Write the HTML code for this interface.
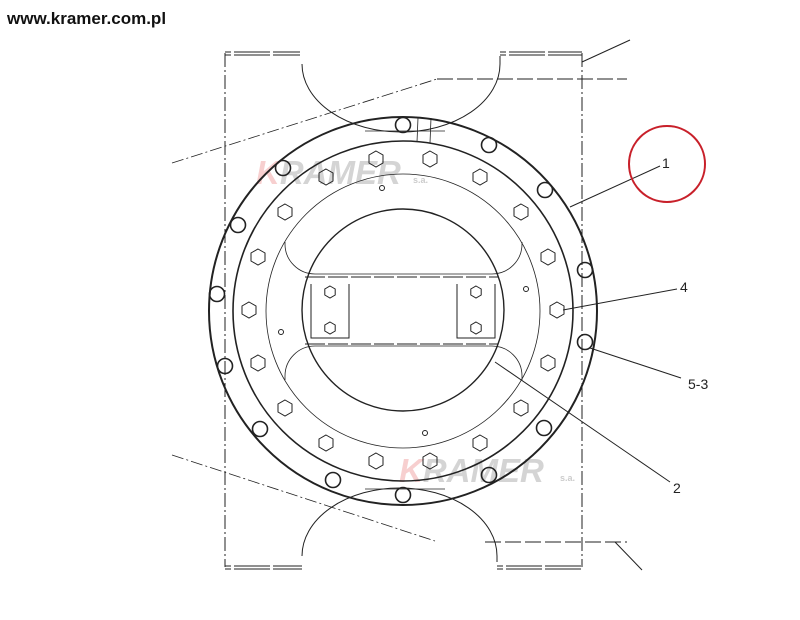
<!DOCTYPE html>
<html><head><meta charset="utf-8"><style>
html,body{margin:0;padding:0;background:#fff;}
svg{display:block;}
</style></head><body>
<svg width="800" height="620" viewBox="0 0 800 620" xmlns="http://www.w3.org/2000/svg" font-family="Liberation Sans, sans-serif">
<rect width="800" height="620" fill="#fff"/>
<text x="7" y="24" font-size="17" font-weight="bold" fill="#111">www.kramer.com.pl</text>

<!-- watermarks -->
<g font-weight="bold" font-style="italic" font-size="33" opacity="0.5">
<text x="256" y="184" fill="#aaa"><tspan fill="#f0a0a0">K</tspan>RAMER</text>
<text x="399" y="482" fill="#aaa"><tspan fill="#f0a0a0">K</tspan>RAMER</text>
</g>
<text x="413" y="183" font-size="9" fill="#ccc" font-weight="bold">s.a.</text>
<text x="560" y="481" font-size="9" fill="#ccc" font-weight="bold">s.a.</text>

<g fill="none" stroke="#222" stroke-width="1">
<!-- frame -->
<line x1="225" y1="53" x2="225" y2="567" stroke-dasharray="14,3,2,3"/>
<line x1="582" y1="53" x2="582" y2="567" stroke-dasharray="14,3,2,3"/>
<path d="M225,52 H300 M225,55 H300 M500,52 H582 M500,55 H582" stroke-dasharray="6,3,30,0"/>
<path d="M225,566 H302 M225,569 H302 M497,566 H582 M497,569 H582" stroke-dasharray="6,3,30,0"/>
<path d="M302,64 A99 68 0 0 0 500,64 L500,56"/>
<line x1="365" y1="131" x2="445" y2="131" stroke-width="0.8"/>
<path d="M302,556 A97.5 68 0 0 1 497,556 L497,562"/>
<line x1="365" y1="489" x2="445" y2="489" stroke-width="0.8"/>
<!-- dash-dot guides -->
<line x1="172" y1="163" x2="437" y2="79" stroke-dasharray="12,3,2,3" stroke-width="0.8"/>
<line x1="437" y1="79" x2="627" y2="79" stroke-dasharray="16,4"/>
<line x1="582" y1="62" x2="630" y2="40"/>
<line x1="172" y1="455" x2="435" y2="541" stroke-dasharray="12,3,2,3" stroke-width="0.8"/>
<line x1="485" y1="542" x2="627" y2="542" stroke-dasharray="16,4"/>
<line x1="615" y1="542" x2="642" y2="570"/>

<!-- rings -->
<circle cx="403" cy="311" r="194" stroke-width="2"/>
<circle cx="403" cy="311" r="170" stroke-width="1.6"/>
<circle cx="403" cy="311" r="137" stroke-width="0.8"/>
<circle cx="403" cy="310" r="101" stroke-width="1.4"/>
<path d="M418,118 L417,142 M431,118 L430,143" stroke-width="0.8"/>
<!-- slots -->
<path d="M285,242 L285,244 A30 30 0 0 0 315,274 L492,274 A30 30 0 0 0 522,244 L522,242" stroke-width="0.8"/>
<path d="M285,380 L285,376 A30 30 0 0 1 315,346 L492,346 A30 30 0 0 1 522,376 L522,380" stroke-width="0.8"/>
<line x1="305" y1="277" x2="498" y2="277" stroke-dasharray="20,3"/>
<line x1="305" y1="344" x2="498" y2="344" stroke-dasharray="20,3"/>
<!-- brackets -->
<path d="M311,284 V338 H349 V284"/>
<path d="M457,284 V338 H495 V284"/>

<!-- leaders -->
<line x1="570" y1="207" x2="660" y2="166"/>
<line x1="563" y1="310" x2="677" y2="289"/>
<line x1="590" y1="348" x2="681" y2="378"/>
<line x1="495" y1="362" x2="670" y2="482"/>

<!-- outer bolts -->
<g stroke-width="1.6">
<circle cx="403" cy="125" r="7.5"/><circle cx="489" cy="145" r="7.5"/><circle cx="545" cy="190" r="7.5"/>
<circle cx="585" cy="270" r="7.5"/><circle cx="585" cy="342" r="7.5"/><circle cx="544" cy="428" r="7.5"/>
<circle cx="489" cy="475" r="7.5"/><circle cx="403" cy="495" r="7.5"/><circle cx="333" cy="480" r="7.5"/>
<circle cx="260" cy="429" r="7.5"/><circle cx="225" cy="366" r="7.5"/><circle cx="217" cy="294" r="7.5"/>
<circle cx="238" cy="225" r="7.5"/><circle cx="283" cy="168" r="7.5"/>
</g>
<!-- small holes -->
<circle cx="382" cy="188" r="2.5"/><circle cx="526" cy="289" r="2.5"/>
<circle cx="281" cy="332" r="2.5"/><circle cx="425" cy="433" r="2.5"/>
</g>

<!-- hex bolts -->
<defs><polygon id="h" points="0,-8 7,-4 7,4 0,8 -7,4 -7,-4" fill="none" stroke="#222" stroke-width="1"/>
<polygon id="hs" points="0,-6 5.2,-3 5.2,3 0,6 -5.2,3 -5.2,-3" fill="none" stroke="#222" stroke-width="1"/></defs>
<use href="#h" x="557" y="310"/><use href="#h" x="548" y="257"/><use href="#h" x="521" y="212"/>
<use href="#h" x="480" y="177"/><use href="#h" x="430" y="159"/><use href="#h" x="376" y="159"/>
<use href="#h" x="326" y="177"/><use href="#h" x="285" y="212"/><use href="#h" x="258" y="257"/>
<use href="#h" x="249" y="310"/><use href="#h" x="258" y="363"/><use href="#h" x="285" y="408"/>
<use href="#h" x="326" y="443"/><use href="#h" x="376" y="461"/><use href="#h" x="430" y="461"/>
<use href="#h" x="480" y="443"/><use href="#h" x="521" y="408"/><use href="#h" x="548" y="363"/>
<use href="#hs" x="330" y="292"/><use href="#hs" x="330" y="328"/>
<use href="#hs" x="476" y="292"/><use href="#hs" x="476" y="328"/>

<!-- labels -->
<g font-size="14" fill="#222">
<text x="662" y="168">1</text>
<text x="680" y="292">4</text>
<text x="688" y="389">5-3</text>
<text x="673" y="493">2</text>
</g>
<circle cx="667" cy="164" r="38" fill="none" stroke="#c8202a" stroke-width="2"/>
</svg>
</body></html>
